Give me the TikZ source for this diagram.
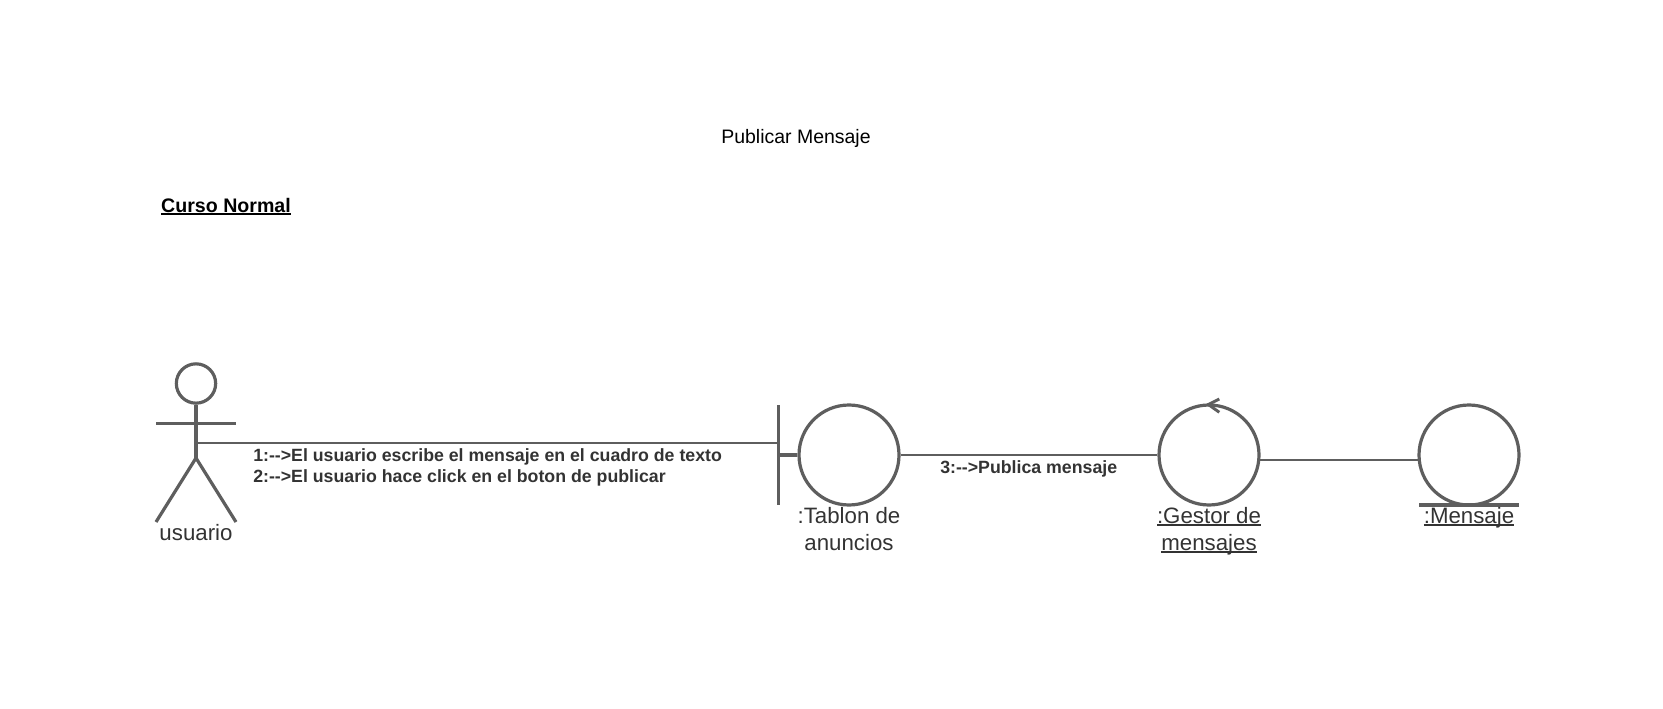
\documentclass[tikz,border=0pt]{standalone}
\usepackage{fontspec}
\setmainfont{Liberation Sans}
\definecolor{umlline}{HTML}{5E5E5E}
\definecolor{umltext}{HTML}{333333}
\newsavebox{\ulsave}
\newcommand{\ulbox}[1]{\sbox{\ulsave}{#1}\rlap{\rule[-1.9pt]{\wd\ulsave}{1.4pt}}\usebox{\ulsave}}
\tikzset{
  shapeline/.style={draw=umlline,line width=2.4pt},
  conn/.style={draw=umlline,line width=1.7pt},
  circ/.style={circle,draw=umlline,line width=2.4pt,minimum size=75pt,inner sep=0pt},
  umllabel/.style={text=umltext,inner sep=0pt,align=center,font=\fontsize{16.7pt}{20.2pt}\selectfont,anchor=north},
  msg/.style={text=umltext,inner sep=0pt,align=left,font=\fontsize{13.3pt}{15.9pt}\selectfont\bfseries,anchor=north west},
}
\begin{document}
\begin{tikzpicture}[x=0.75pt,y=-0.75pt]
\useasboundingbox (0,0) rectangle (1663,709);
% headings
\node[inner sep=0pt,anchor=base,font=\fontsize{14.6pt}{18pt}\selectfont] (title) at (796,144) {Publicar Mensaje};
\node[inner sep=0pt,anchor=base,font=\fontsize{14.7pt}{18pt}\selectfont\bfseries] (curso) at (226,212.5) {\ulbox{Curso Normal}};
% actor
\node[circle,draw=umlline,line width=2.4pt,minimum size=29.5pt,inner sep=0pt] (head) at (196,383.5) {};
\coordinate (crotch) at (196,458);
\coordinate (armL) at (156,423.5);
\coordinate (armR) at (236,423.5);
\coordinate (legL) at (156,522);
\coordinate (legR) at (236,522);
\coordinate (hip) at (196,443);
\draw[shapeline] (head.south) -- (crotch);
\draw[shapeline] (armL) -- (armR);
\draw[shapeline] (legL) -- (crotch) -- (legR);
\node[umllabel] (usuario) at (196,524) {usuario};
% boundary
\node[circ] (tablon) at (849,455) {};
\coordinate (barT) at (778.5,405);
\coordinate (barB) at (778.5,505);
\coordinate (barM) at (778.5,455);
\coordinate (barJ) at (778.5,443);
\draw[shapeline] (barT) -- (barB);
\draw[shapeline] (barM) -- (tablon.west);
\node[umllabel] (tablonL) at (849,507) {:Tablon de\\anuncios};
% control
\node[circ] (gestor) at (1209,455) {};
\coordinate (tipG) at (1208.3,404.5);
\coordinate (arrA) at (1219.3,399);
\coordinate (arrB) at (1219.3,412.3);
\draw[shapeline,line width=2.2pt] (arrA) -- (tipG) -- (arrB);
\node[umllabel] (gestorL) at (1209,507) {\ulbox{:Gestor de}\\\ulbox{mensajes}};
% entity
\node[circ] (mensaje) at (1469,455) {};
\coordinate (entL) at (1419,505);
\coordinate (entR) at (1519,505);
\draw[shapeline] (entL) -- (entR);
\node[umllabel] (mensajeL) at (1469,507) {\ulbox{:Mensaje}};
% connectors
\draw[conn] (hip) -- (barJ);
\draw[conn] (tablon.east) -- (gestor.west);
\coordinate (gR) at (1259,460);
\coordinate (mL) at (1419,460);
\draw[conn] (gR) -- (mL);
% messages
\node[msg] (m12) at (253,448.3) {1:-{}->El usuario escribe el mensaje en el cuadro de texto\\2:-{}->El usuario hace click en el boton de publicar};
\node[msg] (m3) at (940,460.3) {3:-{}->Publica mensaje};
\end{tikzpicture}
\end{document}
